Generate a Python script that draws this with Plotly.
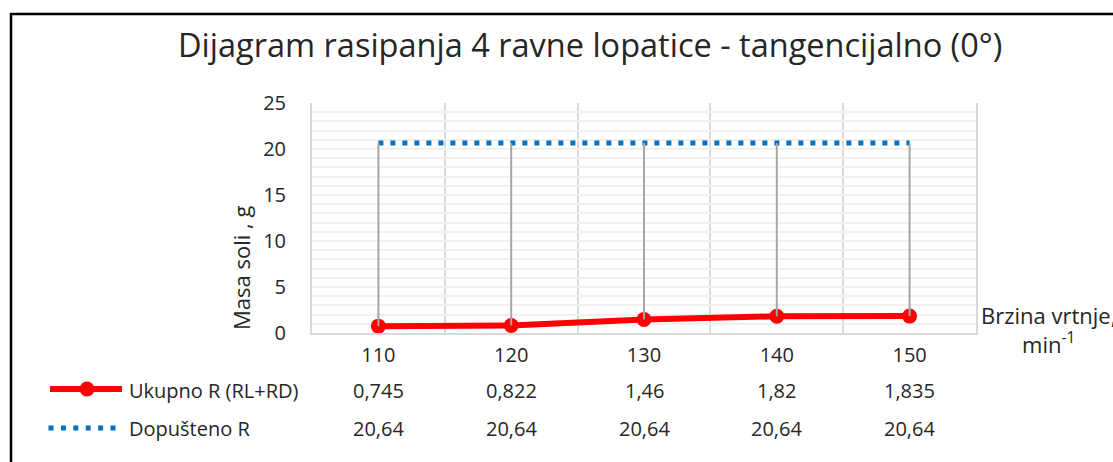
import plotly.graph_objects as go

# ---- data ----
speeds = [110, 120, 130, 140, 150]
ukupno = [0.745, 0.822, 1.46, 1.82, 1.835]
dopusteno = [20.64, 20.64, 20.64, 20.64, 20.64]
y_ticks = [0, 5, 10, 15, 20, 25]
title_text = "Dijagram rasipanja 4 ravne lopatice - tangencijalno (0°)"
name_ukupno = "Ukupno R (RL+RD)"
name_dop = "Dopušteno R"

W, H = 1113, 462
L, R, T, B = 312, 137, 103, 129
PW, PH = W - L - R, H - T - B


def px(x):
    return (x - L) / PW


def py(y):
    return (H - B - y) / PH


FONT = "Open Sans"
TXT = "#262626"


def fmt(v):
    return ("%g" % v).replace(".", ",")


fig = go.Figure()

fig.add_trace(go.Scatter(
    x=speeds, y=ukupno, mode="lines+markers", name=name_ukupno,
    line=dict(color="#ff0000", width=6),
    marker=dict(color="#ff0000", size=15), showlegend=False))

fig.add_trace(go.Scatter(
    x=speeds, y=dopusteno, mode="lines", name=name_dop,
    line=dict(color="#0070c0", width=5, dash="5px,7px"), showlegend=False))

# high-low lines
hx, hy = [], []
for s, lo, hi in zip(speeds, ukupno, dopusteno):
    hx += [s, s, None]
    hy += [lo, hi, None]
fig.add_trace(go.Scatter(x=hx, y=hy, mode="lines",
                         line=dict(color="#a6a6a6", width=2),
                         hoverinfo="skip", showlegend=False))

step = speeds[1] - speeds[0]
fig.update_xaxes(
    range=[speeds[0] - step / 2, speeds[-1] + step / 2],
    tickvals=speeds, ticktext=[str(s) for s in speeds],
    showgrid=False, zeroline=False,
    showline=True, linecolor="#d9d9d9", linewidth=2,
    ticks="", ticklabelstandoff=3,
    tickfont=dict(family=FONT, size=20, color=TXT),
    minor=dict(tick0=speeds[0] - step / 2, dtick=step, showgrid=True,
               gridcolor="#d9d9d9", gridwidth=2, ticks=""),
)
fig.update_yaxes(
    range=[0, 25], tickvals=y_ticks,
    showgrid=True, gridcolor="#f0f0f0", gridwidth=2,
    zeroline=False, showline=True, mirror=True,
    linecolor="#d9d9d9", linewidth=2,
    ticks="", ticklabelstandoff=20,
    tickfont=dict(family=FONT, size=20, color=TXT),
    minor=dict(dtick=1, showgrid=True, gridcolor="#f0f0f0", gridwidth=2, ticks=""),
)

ann = []
ann.append(dict(text=title_text, x=px(590), y=py(45), xref="paper", yref="paper",
                showarrow=False, xanchor="center", yanchor="middle",
                font=dict(family=FONT, size=32.5, color=TXT)))
ann.append(dict(text="Masa soli , g", x=px(241), y=py(268), xref="paper", yref="paper",
                showarrow=False, textangle=-90, xanchor="center", yanchor="middle",
                font=dict(family=FONT, size=22, color=TXT)))
ann.append(dict(text="Brzina vrtnje,<br>min<sup>-1</sup>", x=px(1048), y=py(329),
                xref="paper", yref="paper", showarrow=False,
                xanchor="center", yanchor="middle", align="center",
                font=dict(family=FONT, size=22, color=TXT)))
# data table
for s, u, d in zip(speeds, ukupno, dopusteno):
    ann.append(dict(text=fmt(u), x=s, y=py(390), xref="x", yref="paper",
                    showarrow=False, xanchor="center", yanchor="middle",
                    font=dict(family=FONT, size=20, color=TXT)))
    ann.append(dict(text=fmt(d), x=s, y=py(428), xref="x", yref="paper",
                    showarrow=False, xanchor="center", yanchor="middle",
                    font=dict(family=FONT, size=20, color=TXT)))
ann.append(dict(text=name_ukupno, x=px(127), y=py(390), xref="paper", yref="paper",
                showarrow=False, xanchor="left", yanchor="middle",
                font=dict(family=FONT, size=20, color=TXT)))
ann.append(dict(text=name_dop, x=px(127), y=py(428), xref="paper", yref="paper",
                showarrow=False, xanchor="left", yanchor="middle",
                font=dict(family=FONT, size=20, color=TXT)))

shapes = [
    # outer chart border
    dict(type="rect", xref="paper", yref="paper",
         x0=px(11), x1=px(1300), y0=py(14), y1=py(700),
         line=dict(color="black", width=2.5), layer="above"),
    # legend keys
    dict(type="line", xref="paper", yref="paper",
         x0=px(50), x1=px(122), y0=py(389), y1=py(389),
         line=dict(color="#ff0000", width=6)),
    dict(type="circle", xref="paper", yref="paper", xsizemode="pixel", ysizemode="pixel",
         xanchor=px(87), yanchor=py(389), x0=-7.5, x1=7.5, y0=-7.5, y1=7.5,
         fillcolor="#ff0000", line=dict(color="#ff0000", width=0)),
    dict(type="line", xref="paper", yref="paper",
         x0=px(48.5), x1=px(116), y0=py(428), y1=py(428),
         line=dict(color="#0070c0", width=5, dash="5px,7.4px")),
]

fig.update_layout(
    width=W, height=H,
    margin=dict(l=L, r=R, t=T, b=B),
    paper_bgcolor="white", plot_bgcolor="white",
    annotations=ann, shapes=shapes,
    showlegend=False,
)

fig.write_html("out.html", config={"displayModeBar": False},
               post_script="document.body.style.margin='0';document.body.style.overflow='hidden';")
